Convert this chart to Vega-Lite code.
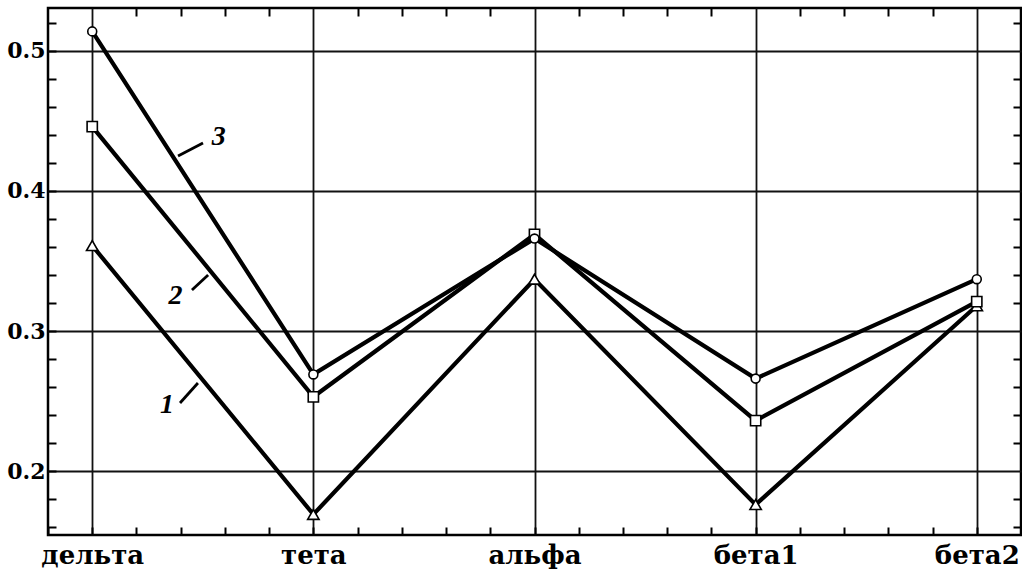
{
  "$schema": "https://vega.github.io/schema/vega-lite/v6.json",
  "width": 973,
  "height": 527,
  "autosize": {"type": "none"},
  "padding": {"left": 48, "top": 8, "right": 1, "bottom": 35},
  "background": "white",
  "config": {
    "view": {"stroke": "black", "strokeWidth": 2.5},
    "axis": {
      "domain": false,
      "tickColor": "black",
      "tickWidth": 2,
      "tickSize": -8,
      "gridColor": "#111111",
      "gridWidth": 1.8,
      "labelFont": "DejaVu Serif",
      "labelFontWeight": "bold",
      "labelColor": "black",
      "title": null
    }
  },
  "datasets": {
    "series": [
      {"pos": 0, "stage": "дельта", "curve": "1", "value": 0.361},
      {"pos": 1, "stage": "тета", "curve": "1", "value": 0.169},
      {"pos": 2, "stage": "альфа", "curve": "1", "value": 0.337},
      {"pos": 3, "stage": "бета1", "curve": "1", "value": 0.176},
      {"pos": 4, "stage": "бета2", "curve": "1", "value": 0.318},
      {"pos": 0, "stage": "дельта", "curve": "2", "value": 0.446},
      {"pos": 1, "stage": "тета", "curve": "2", "value": 0.253},
      {"pos": 2, "stage": "альфа", "curve": "2", "value": 0.369},
      {"pos": 3, "stage": "бета1", "curve": "2", "value": 0.236},
      {"pos": 4, "stage": "бета2", "curve": "2", "value": 0.321},
      {"pos": 0, "stage": "дельта", "curve": "3", "value": 0.514},
      {"pos": 1, "stage": "тета", "curve": "3", "value": 0.269},
      {"pos": 2, "stage": "альфа", "curve": "3", "value": 0.366},
      {"pos": 3, "stage": "бета1", "curve": "3", "value": 0.266},
      {"pos": 4, "stage": "бета2", "curve": "3", "value": 0.337}
    ],
    "labels": [
      {"curve": "1", "lx": 0.338, "ly": 0.2475, "x1": 0.397, "y1": 0.2486, "x2": 0.478, "y2": 0.2629},
      {"curve": "2", "lx": 0.377, "ly": 0.3250, "x1": 0.451, "y1": 0.3293, "x2": 0.524, "y2": 0.3400},
      {"curve": "3", "lx": 0.572, "ly": 0.4385, "x1": 0.388, "y1": 0.4250, "x2": 0.501, "y2": 0.4343}
    ]
  },
  "layer": [
    {
      "data": {"name": "series"},
      "mark": {"type": "line", "color": "black", "strokeWidth": 4.2},
      "encoding": {
        "x": {
          "field": "pos", "type": "quantitative",
          "scale": {"domain": [-0.2, 4.2], "nice": false, "zero": false},
          "axis": {
            "orient": "bottom",
            "values": [-0.2, 0, 0.2, 0.4, 0.6, 0.8, 1, 1.2, 1.4, 1.6, 1.8, 2, 2.2, 2.4, 2.6, 2.8, 3, 3.2, 3.4, 3.6, 3.8, 4, 4.2],
            "labelExpr": "abs(datum.value - round(datum.value)) < 0.01 && datum.value >= 0 && datum.value <= 4 ? ['дельта','тета','альфа','бета1','бета2'][round(datum.value)] : ''",
            "grid": true,
            "gridOpacity": {"condition": {"test": "abs(datum.value - round(datum.value)) < 0.01 && datum.value > -0.1 && datum.value < 4.1", "value": 1}, "value": 0},
            "labelFontSize": 26,
            "labelPadding": 15,
            "labelBaseline": "top",
            "labelOverlap": false,
            "labelFlush": false,
            "labelBound": false
          }
        },
        "y": {
          "field": "value", "type": "quantitative",
          "scale": {"domain": [0.1543, 0.5307], "nice": false, "zero": false},
          "axis": {
            "orient": "left",
            "values": [0.16, 0.18, 0.2, 0.22, 0.24, 0.26, 0.28, 0.3, 0.32, 0.34, 0.36, 0.38, 0.4, 0.42, 0.44, 0.46, 0.48, 0.5, 0.52],
            "labelExpr": "abs(datum.value * 10 - round(datum.value * 10)) < 0.001 ? format(datum.value, '.1f') : ''",
            "grid": true,
            "gridOpacity": {"condition": {"test": "abs(datum.value * 10 - round(datum.value * 10)) < 0.001", "value": 1}, "value": 0},
            "labelFontSize": 22,
            "labelPadding": 11,
            "labelOverlap": false,
            "labelFlush": false,
            "labelBound": false
          }
        },
        "detail": {"field": "curve"}
      }
    },
    {
      "data": {"name": "series"},
      "mark": {"type": "point", "filled": true, "fill": "white", "stroke": "black", "strokeWidth": 1.6, "opacity": 1},
      "encoding": {
        "x": {
          "field": "pos", "type": "quantitative",
          "axis": {
            "orient": "top",
            "values": [0.2, 0.4, 0.6, 0.8, 1.2, 1.4, 1.6, 1.8, 2.2, 2.4, 2.6, 2.8, 3.2, 3.4, 3.6, 3.8],
            "labels": false,
            "grid": false
          }
        },
        "y": {
          "field": "value", "type": "quantitative",
          "axis": {
            "orient": "right",
            "values": [0.16, 0.18, 0.22, 0.24, 0.26, 0.28, 0.32, 0.34, 0.36, 0.38, 0.42, 0.44, 0.46, 0.48, 0.52],
            "labels": false,
            "grid": false
          }
        },
        "shape": {
          "field": "curve", "type": "nominal",
          "scale": {"domain": ["1", "2", "3"], "range": ["triangle-up", "square", "circle"]},
          "legend": null
        },
        "size": {
          "field": "curve", "type": "nominal",
          "scale": {"domain": ["1", "2", "3"], "range": [130, 80, 110]},
          "legend": null
        }
      }
    },
    {
      "data": {"name": "labels"},
      "mark": {"type": "rule", "color": "black", "strokeWidth": 2.8},
      "encoding": {
        "x": {"field": "x1", "type": "quantitative", "axis": null},
        "y": {"field": "y1", "type": "quantitative", "axis": null},
        "x2": {"field": "x2"},
        "y2": {"field": "y2"}
      }
    },
    {
      "data": {"name": "labels"},
      "mark": {"type": "text", "font": "Liberation Serif", "fontStyle": "italic", "fontWeight": "bold", "fontSize": 28, "color": "black", "align": "center", "baseline": "middle"},
      "encoding": {
        "x": {"field": "lx", "type": "quantitative", "axis": null},
        "y": {"field": "ly", "type": "quantitative", "axis": null},
        "text": {"field": "curve"}
      }
    }
  ],
  "resolve": {"axis": {"x": "independent", "y": "independent"}}
}
